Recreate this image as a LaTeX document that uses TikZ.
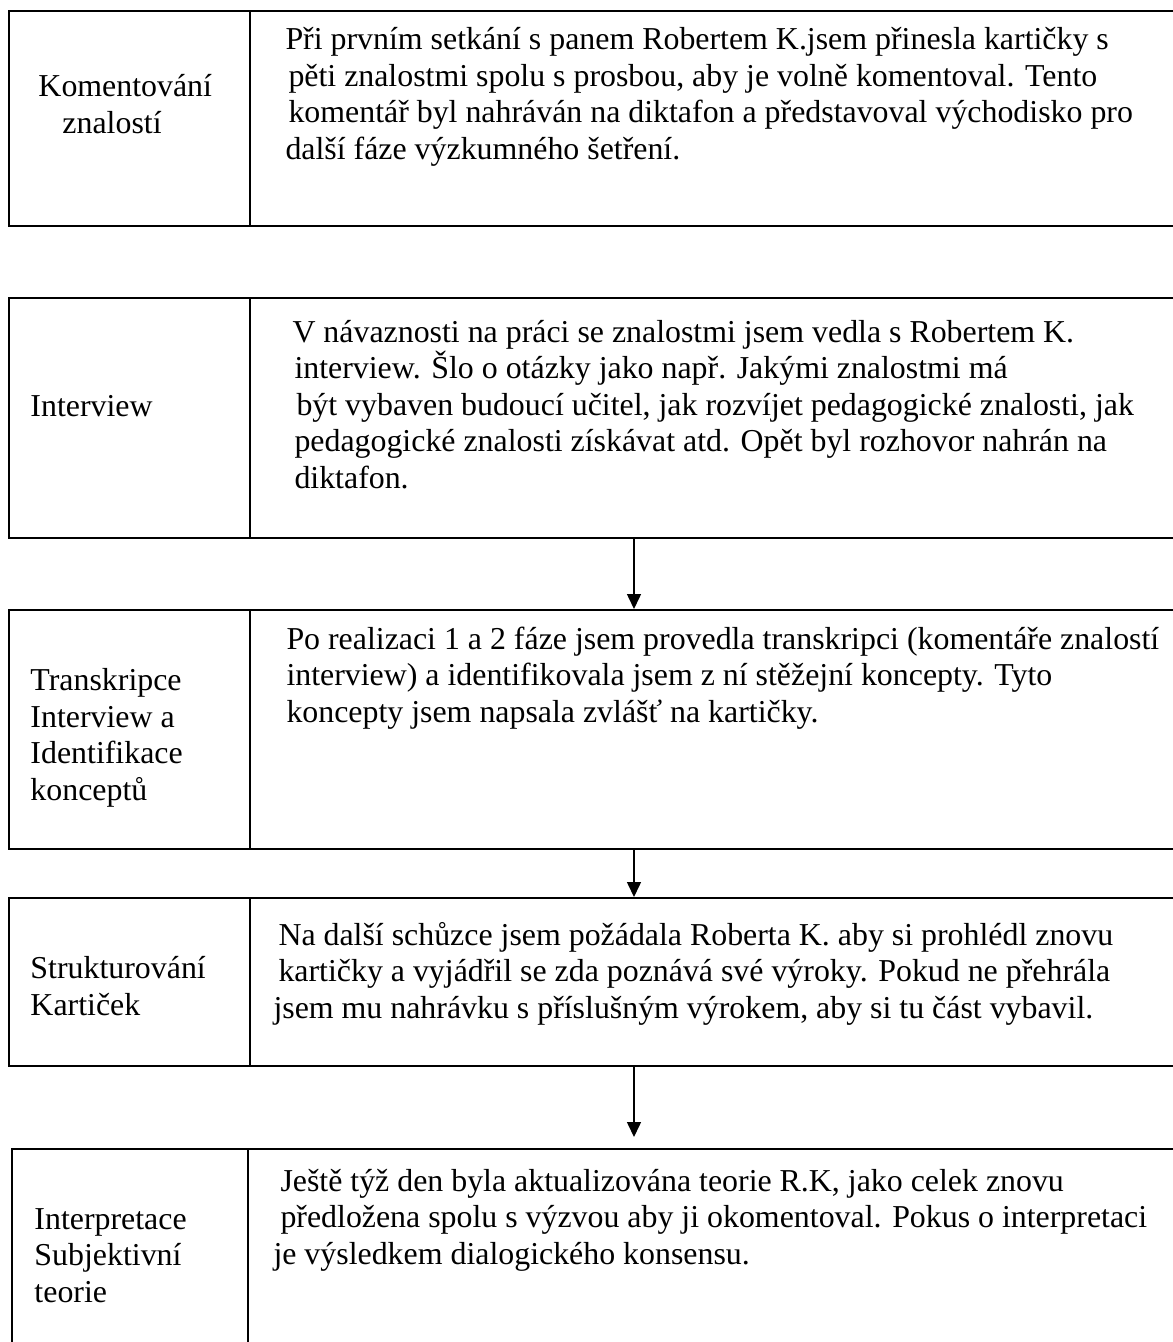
\documentclass[tikz,border=0pt]{standalone}
\usepackage{fontspec}
\setmainfont{Liberation Serif}
\usetikzlibrary{arrows.meta,fit}

\begin{document}
\begin{tikzpicture}[x=0.4pt,y=-0.4pt,
  rowbox/.style={draw,line width=0.8pt,inner sep=0pt},
  txt/.style={anchor=base west,inner sep=0pt,align=left,font=\fontsize{12.75}{14.6}\selectfont},
  arr/.style={line width=0.6pt,-{Triangle[length=6pt,width=5.6pt]}}]
\useasboundingbox (0,0) rectangle (1173,1342);
\clip (0,0) rectangle (1173,1342);

\node[rowbox,fit={(9,11) (1190,226)}] (r1) {};
\node[rowbox,fit={(9,298) (1190,538)}] (r2) {};
\node[rowbox,fit={(9,610) (1190,849)}] (r3) {};
\node[rowbox,fit={(9,898) (1190,1066)}] (r4) {};
\node[rowbox,fit={(12,1149) (1190,1370)}] (r5) {};
\draw[line width=0.8pt] (250,11) -- (250,226);
\draw[line width=0.8pt] (250,298) -- (250,538);
\draw[line width=0.8pt] (250,610) -- (250,849);
\draw[line width=0.8pt] (250,898) -- (250,1066);
\draw[line width=0.8pt] (248,1149) -- (248,1370);

% texts sit on the baseline of their last line
\node[txt] (l1) at (38,133) {Komentování\\\hspace*{9.6pt}znalostí};
\node[txt] (t1) at (285,159) {Při prvním setkání s panem Robertem K.jsem přinesla kartičky s\\
\hspace*{1.2pt}pěti znalostmi spolu s prosbou, aby je volně komentoval. Tento\\
\hspace*{1.2pt}komentář byl nahráván na diktafon a představoval východisko pro\\
další fáze výzkumného šetření.};

\node[txt] (l2) at (30,416) {Interview};
\node[txt] (t2) at (292,488) {V návaznosti na práci se znalostmi jsem vedla s Robertem K.\\
\hspace*{0.8pt}interview. Šlo o otázky jako např. Jakými znalostmi má\\
\hspace*{1.6pt}být vybaven budoucí učitel, jak rozvíjet pedagogické znalosti, jak\\
\hspace*{0.8pt}pedagogické znalosti získávat atd. Opět byl rozhovor nahrán na\\
\hspace*{0.8pt}diktafon.};

\node[txt] (l3) at (30,800) {Transkripce\\Interview a\\Identifikace\\konceptů};
\node[txt] (t3) at (286,722) {Po realizaci 1 a 2 fáze jsem provedla transkripci (komentáře znalostí\\
interview) a identifikovala jsem z ní stěžejní koncepty. Tyto\\
koncepty jsem napsala zvlášť na kartičky.};

\node[txt] (l4) at (30,1015) {Strukturování\\Kartiček};
\node[txt] (t4) at (273,1018) {\hspace*{2pt}Na další schůzce jsem požádala Roberta K. aby si prohlédl znovu\\
\hspace*{2pt}kartičky a vyjádřil se zda poznává své výroky. Pokud ne přehrála\\
jsem mu nahrávku s příslušným výrokem, aby si tu část vybavil.};

\node[txt] (l5) at (34,1302) {Interpretace\\Subjektivní\\teorie};
\node[txt] (t5) at (273,1264) {\hspace*{2.8pt}Ještě týž den byla aktualizována teorie R.K, jako celek znovu\\
\hspace*{2.8pt}předložena spolu s výzvou aby ji okomentoval. Pokus o interpretaci\\
je výsledkem dialogického konsensu.};

\coordinate (ax) at (634,0);
\coordinate (tip) at (634,1137);
\draw[arr] (r2.south -| ax) -- (r3.north -| ax);
\draw[arr] (r3.south -| ax) -- (r4.north -| ax);
\draw[arr] (r4.south -| ax) -- (tip);

\end{tikzpicture}
\end{document}
